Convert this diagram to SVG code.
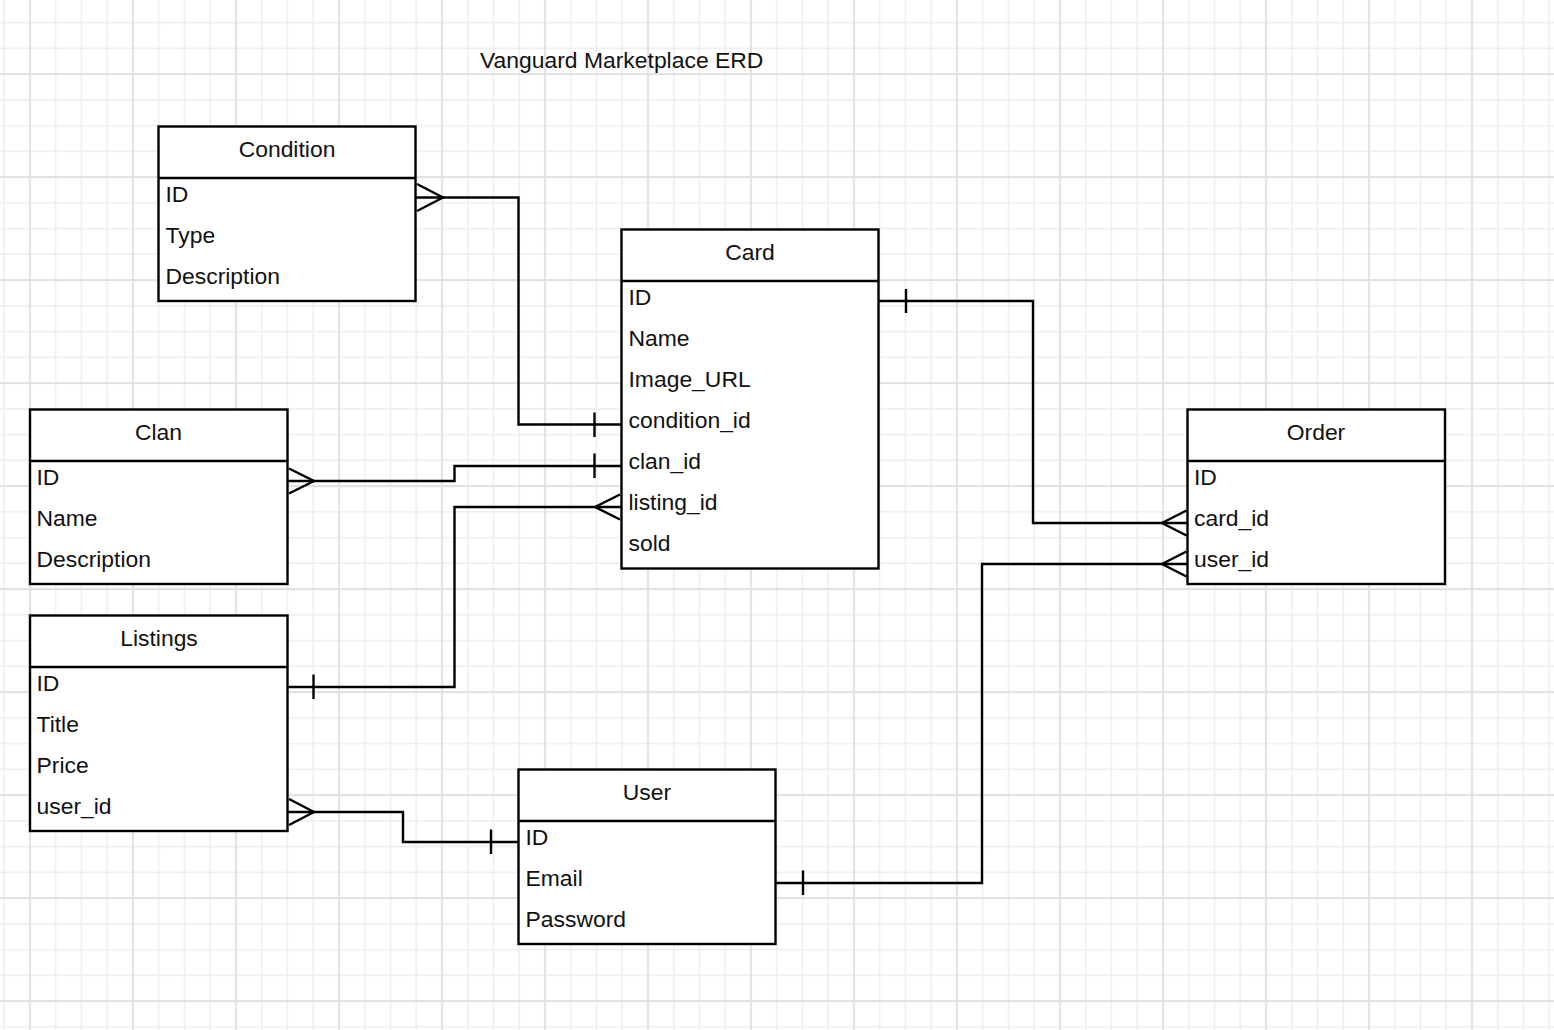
<svg xmlns="http://www.w3.org/2000/svg" width="1554" height="1030" viewBox="0 0 1554 1030">
<style>
.box{fill:#ffffff;stroke:#000000;stroke-width:2.4}
.div{stroke:#000000;stroke-width:2.4;fill:none}
.t{font-family:"Liberation Sans",Arial,sans-serif;font-size:22.9px;fill:#111111}
.h{text-anchor:middle}
.c{fill:none;stroke:#000000;stroke-width:2.4;stroke-linejoin:miter}
.gmin{stroke:#eeeeee;stroke-width:1.5}
.gmaj{stroke:#e0e0e0;stroke-width:2}
</style>
<defs>
<pattern id="grid" patternUnits="userSpaceOnUse" x="17.125" y="61.125" width="103" height="103">
<line class="gmin" x1="38.625" y1="0" x2="38.625" y2="103"/>
<line class="gmin" x1="64.375" y1="0" x2="64.375" y2="103"/>
<line class="gmin" x1="90.125" y1="0" x2="90.125" y2="103"/>
<line class="gmin" x1="0" y1="38.625" x2="103" y2="38.625"/>
<line class="gmin" x1="0" y1="64.375" x2="103" y2="64.375"/>
<line class="gmin" x1="0" y1="90.125" x2="103" y2="90.125"/>
<line class="gmaj" x1="12.875" y1="0" x2="12.875" y2="103"/>
<line class="gmaj" x1="0" y1="12.875" x2="103" y2="12.875"/>
</pattern>
</defs>
<rect x="0" y="0" width="1554" height="1030" fill="#ffffff"/>
<rect x="0" y="0" width="1554" height="1030" fill="url(#grid)"/>

<text class="t" x="480" y="68">Vanguard Marketplace ERD</text>

<g id="connectors">
<path class="c" d="M415.5,197.5 H518.5 V424.5 H621"/>
<path class="c" d="M417,184 L443,197.5 L417,211"/>
<path class="c" d="M594.5,412.5 V437"/>

<path class="c" d="M287.5,481 H454.5 V466 H621"/>
<path class="c" d="M289,468.5 L314,481 L289,493.5"/>
<path class="c" d="M594.5,453.5 V478"/>

<path class="c" d="M621,507 H454.5 V687 H287.5"/>
<path class="c" d="M620,494.5 L595,507 L620,519.5"/>
<path class="c" d="M313.5,674.5 V699"/>

<path class="c" d="M287.5,812 H403 V842 H518.5"/>
<path class="c" d="M289,799 L314,812 L289,825"/>
<path class="c" d="M491,829.5 V854"/>

<path class="c" d="M878.5,301 H1033 V523 H1187.5"/>
<path class="c" d="M906,289 V313"/>
<path class="c" d="M1186.5,510.5 L1162,523 L1186.5,535.5"/>

<path class="c" d="M775.5,883 H982 V564 H1187.5"/>
<path class="c" d="M803,870.5 V895"/>
<path class="c" d="M1186.5,551.5 L1162,564 L1186.5,576.5"/>
</g>

<g id="condition">
<rect class="box" x="158.5" y="126.5" width="257" height="174.5"/>
<line class="div" x1="158.5" y1="178" x2="415.5" y2="178"/>
<text class="t h" x="287" y="157">Condition</text>
<text class="t" x="165.5" y="202">ID</text>
<text class="t" x="165.5" y="243">Type</text>
<text class="t" x="165.5" y="284">Description</text>
</g>

<g id="card">
<rect class="box" x="621.5" y="229.5" width="257" height="339"/>
<line class="div" x1="621.5" y1="281" x2="878.5" y2="281"/>
<text class="t h" x="750" y="260">Card</text>
<text class="t" x="628.5" y="305">ID</text>
<text class="t" x="628.5" y="346">Name</text>
<text class="t" x="628.5" y="387">Image_URL</text>
<text class="t" x="628.5" y="428">condition_id</text>
<text class="t" x="628.5" y="469">clan_id</text>
<text class="t" x="628.5" y="510">listing_id</text>
<text class="t" x="628.5" y="551">sold</text>
</g>

<g id="clan">
<rect class="box" x="30" y="409.5" width="257.5" height="174.5"/>
<line class="div" x1="30" y1="461" x2="287.5" y2="461"/>
<text class="t h" x="158.5" y="440">Clan</text>
<text class="t" x="36.5" y="485">ID</text>
<text class="t" x="36.5" y="526">Name</text>
<text class="t" x="36.5" y="567">Description</text>
</g>

<g id="listings">
<rect class="box" x="30" y="615.5" width="257.5" height="215.5"/>
<line class="div" x1="30" y1="667" x2="287.5" y2="667"/>
<text class="t h" x="159" y="646">Listings</text>
<text class="t" x="36.5" y="691">ID</text>
<text class="t" x="36.5" y="732">Title</text>
<text class="t" x="36.5" y="773">Price</text>
<text class="t" x="36.5" y="814">user_id</text>
</g>

<g id="user">
<rect class="box" x="518.5" y="769.5" width="257" height="174.5"/>
<line class="div" x1="518.5" y1="821" x2="775.5" y2="821"/>
<text class="t h" x="647" y="800">User</text>
<text class="t" x="525.5" y="845">ID</text>
<text class="t" x="525.5" y="886">Email</text>
<text class="t" x="525.5" y="927">Password</text>
</g>

<g id="order">
<rect class="box" x="1187.5" y="409.5" width="257.5" height="174.5"/>
<line class="div" x1="1187.5" y1="461" x2="1445" y2="461"/>
<text class="t h" x="1316" y="440">Order</text>
<text class="t" x="1194" y="485">ID</text>
<text class="t" x="1194" y="526">card_id</text>
<text class="t" x="1194" y="567">user_id</text>
</g>
</svg>
